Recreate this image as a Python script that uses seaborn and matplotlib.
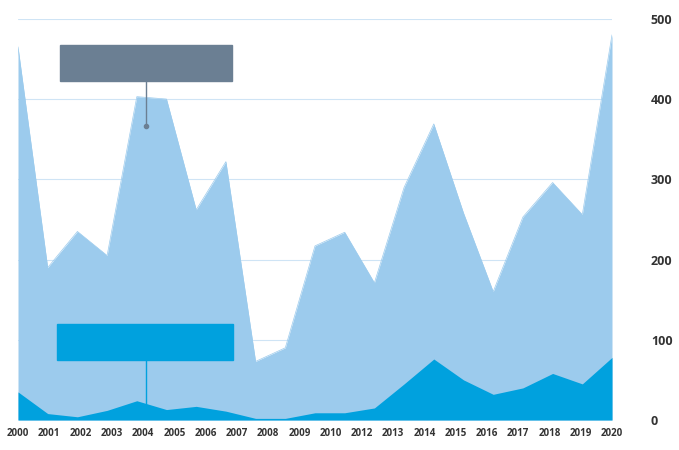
import numpy as np
import matplotlib.pyplot as plt
import seaborn as sns

# ── data ─────────────────────────────────────────────────────────────────────
ipos = [465, 190, 235, 205, 403, 400, 262, 322, 73, 90, 217,
        234, 171, 290, 369, 258, 160, 253, 296, 256, 480]
biotech = [35, 8, 4, 12, 24, 13, 17, 11, 2, 2, 9,
           9, 15, 45, 76, 50, 32, 40, 58, 45, 78]
year_labels = ["2000", "2001", "2002", "2003", "2004", "2005", "2006", "2007",
               "2008", "2009", "2010", "2012", "2013", "2014", "2015", "2016",
               "2017", "2018", "2019", "2020"]
y_ticks = [0, 100, 200, 300, 400, 500]

sns.set_theme(style="white")
plt.rcParams["font.family"] = "Open Sans"

fig = plt.figure(figsize=(6.79, 4.5), dpi=100)
ax = fig.add_axes([18 / 679, 30 / 450, (612 - 18) / 679, (420 - 19 + 1) / 450 * 0.998])

x = np.arange(len(ipos))
ax.fill_between(x, ipos, color="#9ccbed", lw=0, zorder=2)
ax.fill_between(x, biotech, color="#00a1de", lw=0, zorder=3)
sns.lineplot(x=x, y=ipos, ax=ax, color="#9ccbed", lw=0.5, zorder=2)

ax.set_xlim(0, 20)
ax.set_ylim(0, 500)
for t in y_ticks[1:]:
    ax.axhline(t, color="#cfe4f5", lw=0.8, zorder=1)
ax.set_yticks(y_ticks)
ax.yaxis.tick_right()
ax.tick_params(axis="y", length=0, pad=28, labelsize=9, labelcolor="#333333")
for lab in ax.get_yticklabels():
    lab.set_fontweight("bold")
ax.set_xticks(np.linspace(0, 20, len(year_labels)))
ax.set_xticklabels(year_labels, fontsize=7, fontweight="bold", color="#333333")
ax.tick_params(axis="x", length=0, pad=6)
sns.despine(ax=ax, left=True, right=True, top=True, bottom=True)

# annotation boxes
def label(x0, y0, w, h, color, title, sub, px, py0, py1):
    fig.patches.append(plt.Rectangle((x0 / 679, 1 - (y0 + h) / 450), w / 679, h / 450,
                                     transform=fig.transFigure, color=color, zorder=5))
    fig.text((x0 + 5) / 679, 1 - (y0 + 17) / 450, title, color="white",
             fontsize=11, fontweight="bold")
    fig.text((x0 + 5) / 679, 1 - (y0 + 31) / 450, sub, color="white",
             fontsize=6.5, fontweight="bold")
    fig.lines.append(plt.Line2D([px / 679, px / 679], [1 - py0 / 450, 1 - py1 / 450],
                                transform=fig.transFigure, color=color, lw=1))
    fig.lines.append(plt.Line2D([px / 679], [1 - py1 / 450], marker="o", ms=3,
                                transform=fig.transFigure, color=color))

label(60, 45, 172, 36, "#6b7f93", "# OF IPOs", "SINCE 2000", 146, 81, 126)
label(57, 324, 176, 36, "#00a1de", "# OF BIOTECH IPOs", "SINCE 2000", 146, 360, 408)

fig.savefig("out.png", dpi=100)
